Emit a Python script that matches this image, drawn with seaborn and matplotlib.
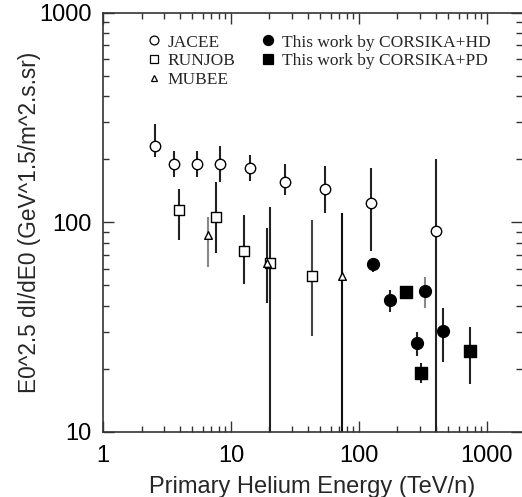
import numpy as np
import pandas as pd
import seaborn as sns
import matplotlib
matplotlib.use("Agg")
import matplotlib.pyplot as plt
from matplotlib.ticker import LogLocator, NullFormatter, FixedLocator, FixedFormatter

# ---- data ----
jacee_x = [2.55, 3.57, 5.43, 8.2, 14.1, 26.4, 54, 124, 397]
jacee_y = [231.7, 190, 190, 190, 180.7, 155.6, 144.6, 123.1, 90.8]
jacee_lo = [205.3, 164.8, 164.8, 155, 156.6, 134.9, 110.4, 72.9, 1.0]
jacee_hi = [293.8, 219.2, 219.2, 231.7, 209.8, 188.8, 186.2, 180.7, 199.5]

runjob_x = [3.92, 7.59, 12.7, 20.2, 43.2]
runjob_y = [114, 105.9, 72.9, 64.1, 55.5]
runjob_lo = [82.2, 71.1, 50.6, 1.0, 28.8]
runjob_hi = [144.6, 156, 108.4, 118.6, 102.6]

mubee_x = [6.58, 19.2, 73.6]
mubee_y = [86.9, 64.1, 55.5]
mubee_lo = [61.4, 41.3, 1.0]
mubee_hi = [105.7, 93.5, 110.4]

hd_x = [128.6, 175.7, 282.5, 329.6, 455.6]
hd_y = [63.1, 42.5, 26.5, 46.9, 30.3]
hd_lo = [58.1, 37.2, 23.0, 38.9, 21.6]
hd_hi = [67.4, 47.5, 30.1, 55.0, 38.9]

pd_x = [234, 305, 732]
pd_y = [46.4, 19.2, 24.4]
pd_lo = [44.2, 17.1, 16.9]
pd_hi = [48.4, 21.3, 31.8]

x_ticks = [1, 10, 100, 1000]
x_ticklabels = ["1", "10", "100", "1000"]
y_ticks = [10, 100, 1000]
y_ticklabels = ["10", "100", "1000"]

series = [
    ("JACEE", jacee_x, jacee_y, jacee_lo, jacee_hi, "o", "white", 7.5, ["#222222"] * 9),
    ("RUNJOB", runjob_x, runjob_y, runjob_lo, runjob_hi, "s", "white", 7.5,
     ["#222222", "#222222", "#222222", "#222222", "#444444"]),
    ("MUBEE", mubee_x, mubee_y, mubee_lo, mubee_hi, "^", "white", 5.5,
     ["#888888", "#222222", "#111111"]),
    ("This work by CORSIKA+HD", hd_x, hd_y, hd_lo, hd_hi, "o", "black", 8.5,
     ["#222222", "#222222", "#222222", "#888888", "#222222"]),
    ("This work by CORSIKA+PD", pd_x, pd_y, pd_lo, pd_hi, "s", "black", 8.5,
     ["#222222"] * 3),
]

sns.set_theme(style="white")
plt.rcParams["font.family"] = ["Liberation Sans", "DejaVu Sans"]

fig = plt.figure(figsize=(5.22, 4.97), dpi=100)
ax = fig.add_axes([103 / 522, (497 - 432) / 497, (522 - 103) / 522, (432 - 12.5) / 497])

handles = []
for name, xs, ys, lo, hi, mk, fc, ms, ecols in series:
    df = pd.DataFrame({"x": xs, "y": ys, "lo": lo, "hi": hi})
    for i in range(len(df)):
        ax.vlines(df.x[i], df.lo[i], df.hi[i], color=ecols[i], lw=1.5, zorder=2)
    sns.scatterplot(data=df, x="x", y="y", marker=mk, s=ms ** 2, facecolor=fc,
                    edgecolor="black", linewidth=1.0, ax=ax, zorder=3, legend=False)
    h = plt.Line2D([], [], ls="none", marker=mk, markersize=ms * 0.85,
                   markerfacecolor=fc, markeredgecolor="black", markeredgewidth=0.9)
    handles.append((h, name))

ax.set_xscale("log")
ax.set_yscale("log")
ax.set_xlim(1, 1880)
ax.set_ylim(10, 1000)

ax.xaxis.set_major_locator(FixedLocator(x_ticks))
ax.xaxis.set_major_formatter(FixedFormatter(x_ticklabels))
ax.yaxis.set_major_locator(FixedLocator(y_ticks))
ax.yaxis.set_major_formatter(FixedFormatter(y_ticklabels))
ax.xaxis.set_minor_locator(LogLocator(base=10, subs=np.arange(2, 10), numticks=20))
ax.yaxis.set_minor_locator(LogLocator(base=10, subs=np.arange(2, 10), numticks=20))
ax.xaxis.set_minor_formatter(NullFormatter())
ax.yaxis.set_minor_formatter(NullFormatter())

ax.tick_params(which="both", direction="in", top=True, right=True, bottom=True, left=True,
               colors="#333333", labelcolor="black", labelsize=17, width=1.0)
ax.tick_params(which="major", length=8)
ax.tick_params(which="minor", length=4)
ax.tick_params(axis="x", which="major", pad=9)
ax.tick_params(axis="y", which="major", pad=8)

for side in ["left", "bottom", "top"]:
    ax.spines[side].set_color("#333333")
    ax.spines[side].set_linewidth(1.2)
ax.spines["right"].set_visible(False)

ax.set_xlabel("Primary Helium Energy (TeV/n)", fontsize=17, labelpad=7)
ax.set_ylabel("E0^2.5 dI/dE0 (GeV^1.5/m^2.s.sr)", fontsize=16.3, labelpad=-1)

leg = ax.legend([h for h, _ in handles], [n for _, n in handles], ncol=2, frameon=False,
                loc="upper left", bbox_to_anchor=(0.065, 0.985), handletextpad=0.35,
                handlelength=0.9, columnspacing=1.45, labelspacing=0.15,
                prop={"family": "Liberation Serif", "size": 12.5})

fig.savefig("out.png", dpi=100)
